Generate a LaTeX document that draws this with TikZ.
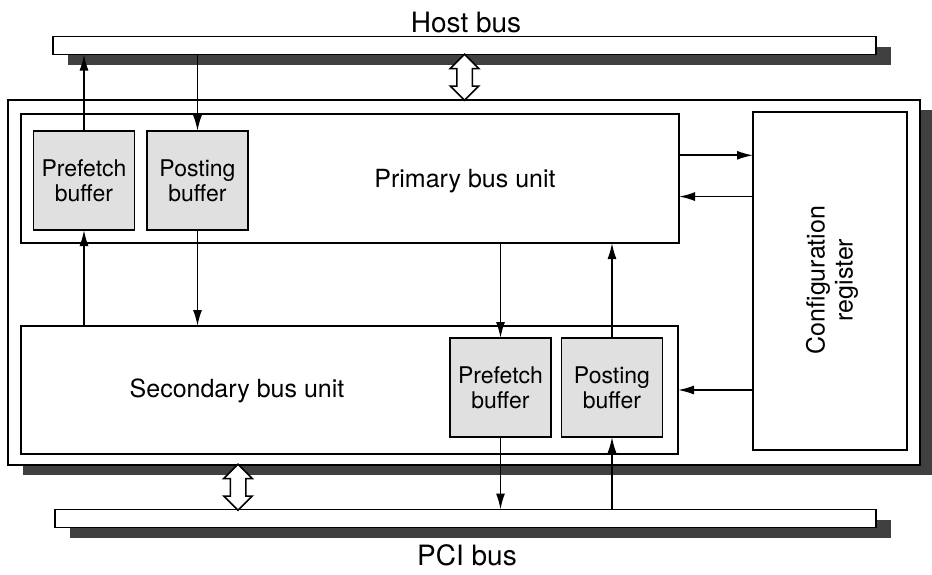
\documentclass[tikz,border=0pt]{standalone}
\usepackage{fontspec}
\setmainfont{TeX Gyre Heros}
\usetikzlibrary{positioning,arrows.meta,shapes.arrows,shadows,calc}

\begin{document}
\begin{tikzpicture}[
  x=1pt, y=-1pt,
  every node/.style={inner sep=0pt, outer sep=0pt},
  shade/.style={drop shadow={shadow xshift=15pt, shadow yshift=-10pt,
                fill=black!75, opacity=1}},
  bus/.style={draw, line width=1.5pt, fill=white, shade, minimum height=18pt},
  chip/.style={draw, line width=1.5pt, fill=white, shade},
  unit/.style={draw, line width=1.5pt},
  buffer/.style={draw, line width=1.5pt, fill=black!12, minimum width=101pt,
                 minimum height=99pt, align=center,
                 font=\fontsize{23}{25}\selectfont},
  txt/.style={font=\fontsize{25}{28}\selectfont, align=center},
  buslbl/.style={font=\fontsize{28}{31}\selectfont},
  flow/.style={-{Latex[length=16pt,width=9pt]}, line width=1.6pt},
  buslink/.style={double arrow, draw, fill=white, line width=1.5pt,
                  inner sep=7pt, double arrow head extend=6.5pt,
                  shape border rotate=90}
]
  \useasboundingbox (0,0) rectangle (932,574);

  % bridge chip and the two buses
  \node[chip, minimum width=912pt, minimum height=365pt] (chip) at (464,282.5) {};
  \node[bus, minimum width=823pt] (hostbus) at (464.5,45.5) {};
  \node[bus, minimum width=821pt] (pcibus) at (465.5,518.5) {};
  \node[buslbl] (hostlbl) at (466,22) {Host bus};
  \node[buslbl] (pcilbl) at (467,555) {PCI bus};

  % units
  \node[unit, minimum width=658pt, minimum height=129pt] (primary) at (350,178.5) {};
  \node[unit, minimum width=657pt, minimum height=128pt] (secondary) at (349.5,390) {};
  \node[unit, minimum width=154pt, minimum height=338pt] (config) at (830,281) {};
  \node[txt] (primlbl) at (465,181) {Primary bus unit};
  \node[txt] (seclbl) at (237,391) {Secondary bus unit};
  \node[txt, rotate=90] (conflbl) at (832,280) {Configuration\\register};

  % buffers
  \node[buffer] (prefA) at (84,180.5) {Prefetch\\buffer};
  \node[buffer] (postA) at (197.5,180.5) {Posting\\buffer};
  \node[buffer] (prefB) at (500.5,387.5) {Prefetch\\buffer};
  \node[buffer] (postB) at (612,387.5) {Posting\\buffer};

  % data paths
  \draw[flow] (prefA.north) -- (prefA.north |- hostbus.south);
  \draw[flow] (postA.north |- hostbus.south) -- (postA.north);
  \draw[flow] (prefA.south |- secondary.north) -- (prefA.south);
  \draw[flow] (postA.south) -- (postA.south |- secondary.north);
  \draw[flow] (prefB.north |- primary.south) -- (prefB.north);
  \draw[flow] (postB.north) -- (postB.north |- primary.south);
  \draw[flow] (prefB.south) -- (prefB.south |- pcibus.north);
  \draw[flow] (postB.south |- pcibus.north) -- (postB.south);

  % configuration paths
  \coordinate (cfgout) at ($(primary.north east)!0.32!(primary.south east)$);
  \coordinate (cfgin) at ($(primary.north east)!0.64!(primary.south east)$);
  \draw[flow] (cfgout) -- (cfgout -| config.west);
  \draw[flow] (cfgin -| config.west) -- (cfgin);
  \draw[flow] (config.west |- secondary.east) -- (secondary.east);

  % bus connections
  \coordinate (pcix) at (238,0);
  \node[buslink, minimum height=46pt] (hostlink)
    at ($(hostbus.south)!0.5!(hostbus.south |- chip.north)$) {};
  \node[buslink, minimum height=46pt] (pcilink)
    at ($(pcix |- chip.south)!0.5!(pcix |- pcibus.north)$) {};
\end{tikzpicture}
\end{document}
